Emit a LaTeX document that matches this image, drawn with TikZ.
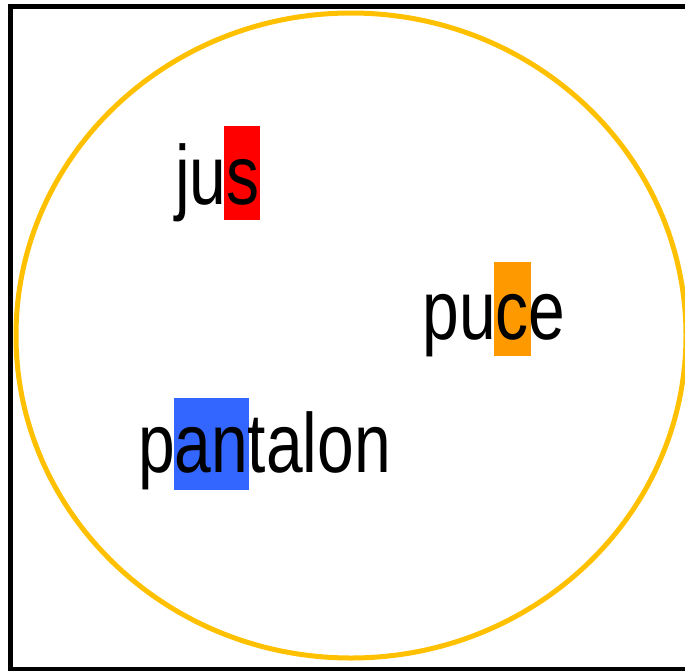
\documentclass[tikz,border=0pt]{standalone}
\usepackage{fontspec}
\setmainfont{Liberation Sans}
\usepackage{graphicx}
\definecolor{ringc}{HTML}{FFC000}
\definecolor{hlred}{HTML}{FF0000}
\definecolor{hlorange}{HTML}{FF9900}
\definecolor{hlblue}{HTML}{3366FF}
\begin{document}
\begin{tikzpicture}[x=1pt,y=-1pt,
  hl/.style={draw=none,inner sep=0pt,outer sep=0pt},
  word/.style={inner sep=0pt,outer sep=0pt,anchor=base west,font=\fontsize{84}{84}\selectfont}]
\useasboundingbox (0,0) rectangle (685,670);
\draw[line width=5pt,black] (10.5,6.5) rectangle (694,669);
\draw[line width=5pt,ringc] (351,335.5) ellipse [x radius=335, y radius=322.5];
% highlight boxes
\node[hl,fill=hlred,minimum width=36pt,minimum height=94pt] (hjus) at (242,173) {};
\node[hl,fill=hlorange,minimum width=37pt,minimum height=94pt] (hpuce) at (512.5,309) {};
\node[hl,fill=hlblue,minimum width=75pt,minimum height=92pt] (hpant) at (211.5,444) {};
% words
\node[word] (jus) at (175,204) {\scalebox{0.785}[1]{jus}};
\node[word] (puce) at (422.5,339) {\scalebox{0.785}[1]{puce}};
\node[word] (pant) at (138,472) {\scalebox{0.785}[1]{pantalon}};
\end{tikzpicture}
\end{document}
